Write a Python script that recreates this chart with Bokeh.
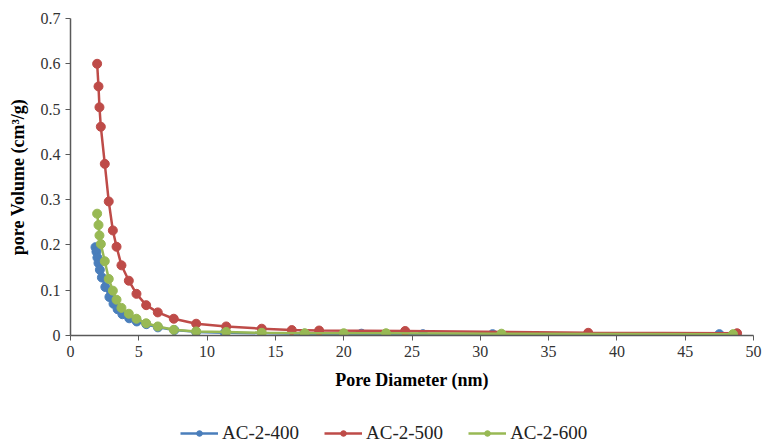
from bokeh.plotting import figure
from bokeh.models import Legend, LegendItem, Range1d, FixedTicker
from bokeh.layouts import column
from bokeh.embed import file_html
from bokeh.resources import INLINE

# AC-2-400
x400 = [1.83, 1.9, 1.97, 2.05, 2.15, 2.3, 2.55, 2.85, 3.15, 3.45, 3.8, 4.3, 4.85, 5.55, 6.4, 7.6, 9.2, 11.3, 17.1, 21.3, 25.8, 30.9, 47.5]
y400 = [0.195, 0.185, 0.172, 0.160, 0.145, 0.128, 0.107, 0.085, 0.070, 0.058, 0.047, 0.038, 0.031, 0.025, 0.018, 0.012, 0.008, 0.006, 0.004, 0.004, 0.003, 0.003, 0.003]
# AC-2-500
x500 = [1.95, 2.05, 2.12, 2.22, 2.51, 2.80, 3.10, 3.37, 3.73, 4.27, 4.83, 5.54, 6.39, 7.56, 9.2, 11.4, 14.0, 16.2, 18.2, 24.5, 37.9, 48.8]
y500 = [0.600, 0.550, 0.504, 0.461, 0.379, 0.296, 0.232, 0.196, 0.155, 0.121, 0.092, 0.067, 0.051, 0.037, 0.026, 0.020, 0.015, 0.012, 0.011, 0.010, 0.006, 0.005]
# AC-2-600
x600 = [1.95, 2.05, 2.12, 2.22, 2.51, 2.80, 3.10, 3.37, 3.73, 4.27, 4.83, 5.54, 6.39, 7.56, 9.2, 11.4, 14.0, 17.15, 20.0, 23.1, 31.55, 48.5]
y600 = [0.269, 0.244, 0.221, 0.202, 0.164, 0.125, 0.099, 0.079, 0.061, 0.048, 0.037, 0.027, 0.020, 0.0125, 0.009, 0.008, 0.006, 0.005, 0.005, 0.005, 0.004, 0.003]

series_names = ["AC-2-400", "AC-2-500", "AC-2-600"]
colors = ["#4A7EBB", "#BE4B48", "#98B954"]
x_ticks = [0, 5, 10, 15, 20, 25, 30, 35, 40, 45, 50]
y_ticks = [0, 0.1, 0.2, 0.3, 0.4, 0.5, 0.6, 0.7]

FONT = "Liberation Serif"

p = figure(width=764, height=403, output_backend="svg", toolbar_location=None,
           x_range=Range1d(0, 50), y_range=Range1d(0, 0.7),
           min_border_left=70, min_border_right=11, min_border_top=18, min_border_bottom=68)
p.outline_line_color = None
p.xgrid.visible = False
p.ygrid.visible = False

all_x = [x400, x500, x600]
all_y = [y400, y500, y600]
for xs, ys, c in zip(all_x, all_y, colors):
    p.line(xs, ys, line_color=c, line_width=2.5)
    p.scatter(xs, ys, size=9, fill_color=c, line_color=c)

for ax in (p.xaxis[0], p.yaxis[0]):
    ax.major_label_text_font = FONT
    ax.major_label_text_font_size = "16px"
    ax.major_label_text_color = "#333333"
    ax.axis_label_text_font = FONT
    ax.axis_label_text_font_style = "bold"
    ax.axis_label_text_font_size = "18px"
    ax.axis_label_text_color = "#000000"
    ax.axis_line_color = "#595959"
    ax.axis_line_width = 1.5
    ax.major_tick_line_color = "#595959"
    ax.major_tick_in = 0
    ax.major_tick_out = 5
    ax.minor_tick_line_color = None

p.xaxis.ticker = FixedTicker(ticks=x_ticks)
p.yaxis.ticker = FixedTicker(ticks=y_ticks)
p.yaxis.major_label_overrides = {0: "0"}
p.xaxis.axis_label = "Pore Diameter (nm)"
p.yaxis.axis_label = "pore Volume (cm³/g)"
p.xaxis.axis_label_standoff = 10
p.yaxis.axis_label_standoff = 10

# legend strip below the chart (its proxy renderers lie outside its ranges)
lg = figure(width=764, height=40, output_backend="svg", toolbar_location=None,
            x_axis_type=None, y_axis_type=None,
            x_range=Range1d(100, 101), y_range=Range1d(100, 101),
            min_border_left=0, min_border_right=0, min_border_top=0, min_border_bottom=0)
lg.outline_line_color = None
items = []
for name, c, xs, ys in zip(series_names, colors, all_x, all_y):
    r1 = lg.line(xs[:1], ys[:1], line_color=c, line_width=2.5)
    r2 = lg.scatter(xs[:1], ys[:1], size=9, fill_color=c, line_color=c)
    items.append(LegendItem(label=name, renderers=[r1, r2]))

legend = Legend(items=items, orientation="horizontal", location=(110, -1),
                label_text_font=FONT, label_text_font_size="19px",
                label_text_color="#222222", glyph_width=38, glyph_height=14,
                spacing=25, padding=0, margin=0, label_standoff=4,
                border_line_color=None, background_fill_alpha=0)
lg.add_layout(legend, "center")

layout = column(p, lg, spacing=0)
open("out.html", "w").write(file_html(layout, INLINE))
